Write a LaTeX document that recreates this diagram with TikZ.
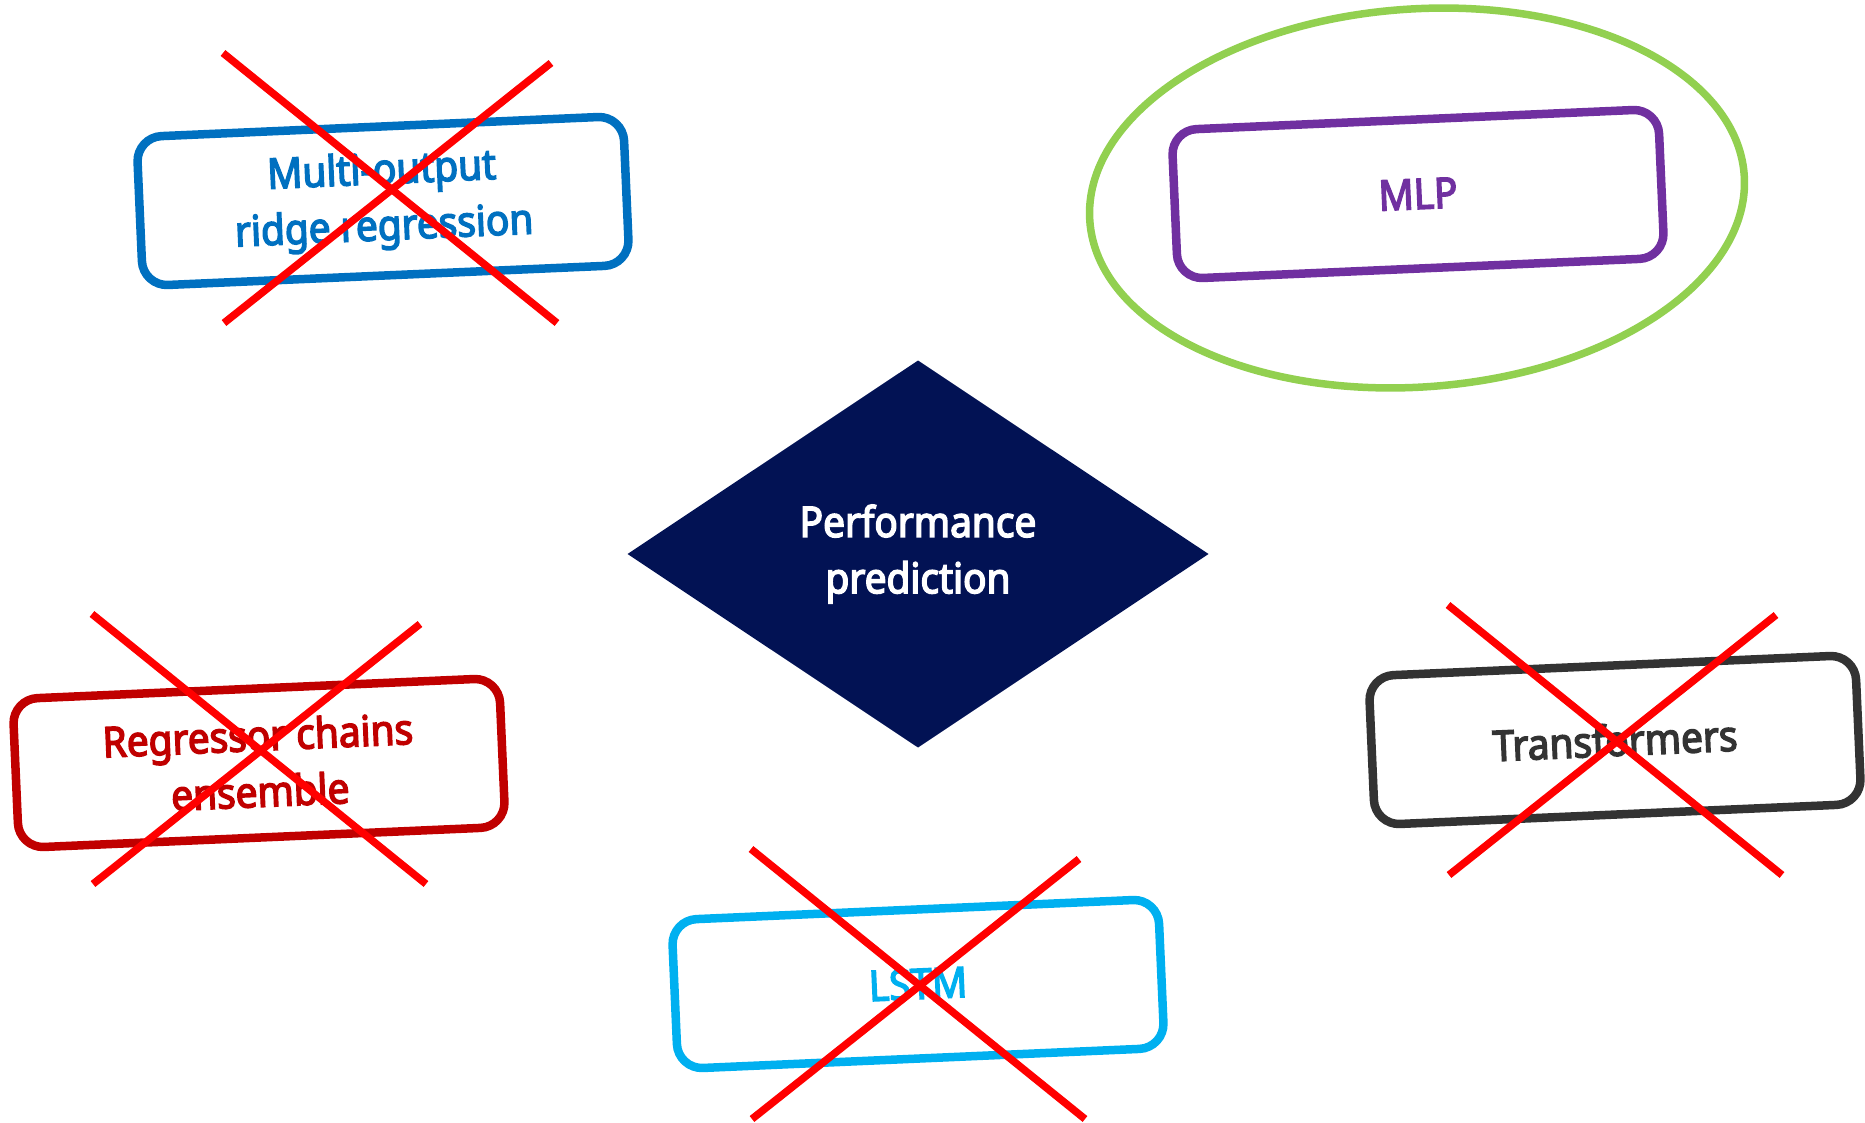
\documentclass[tikz,border=0pt]{standalone}
\usepackage{fontspec}
\setmainfont{Noto Sans}[AutoFakeBold=3.5, FakeStretch=0.92]
\usetikzlibrary{shapes,calc}
\usepackage{color}

\definecolor{navy}{RGB}{2,18,84}
\definecolor{ridgeblue}{RGB}{0,112,192}
\definecolor{mlppurple}{RGB}{112,48,160}
\definecolor{chainred}{RGB}{192,0,0}
\definecolor{transgray}{RGB}{51,51,51}
\definecolor{lstmblue}{RGB}{0,176,240}
\definecolor{ringgreen}{RGB}{146,208,80}
\definecolor{crossred}{RGB}{255,0,0}

\begin{document}
\begin{tikzpicture}[outer sep=0pt,
  model/.style={draw, rounded corners=0.25cm, line width=0.085cm, minimum width=4.87cm,
    minimum height=1.49cm, align=center, rotate=2.5,
    font=\fontsize{12}{16}\selectfont\bfseries},
  strike/.style={draw=crossred, line width=0.075cm}]

\useasboundingbox (0,0) rectangle (18.65,11.22);

\node [diamond, fill=navy, text=white, inner sep=0pt, minimum width=5.81cm, minimum height=3.87cm,
  align=center, font=\fontsize{12}{16}\selectfont\bfseries] at (9.18, 5.68) (PERF) {Performance\\prediction};

\node [model, color=ridgeblue] at (3.83, 9.21) (RIDGE) {Multi-output\\ridge regression};

\node [ellipse, draw=ringgreen, line width=0.075cm, minimum width=6.56cm, minimum height=3.78cm,
  rotate=4] at (14.17, 9.24) (RING) {};
\node [model, color=mlppurple] at (14.18, 9.28) (MLP) {MLP};

\node [model, color=chainred] at (2.59, 3.59) (CHAIN) {Regressor chains\\ensemble};
\node [model, color=transgray] at (16.15, 3.82) (TRANS) {Transformers};
\node [model, color=lstmblue] at (9.18, 1.38) (LSTM) {LSTM};

%\draw [strike] (RIDGE.north west) -- (RIDGE.south east);
\coordinate (XRIDGE) at ($(RIDGE)+(0.07, 0.13)$);
\coordinate (XCHAIN) at ($(CHAIN)+(0, 0.14)$);

\draw [strike] ($(XRIDGE)+(-1.67, 1.35)$) -- ($(XRIDGE)+(1.67, -1.35)$);
\draw [strike] ($(XRIDGE)+(1.61, 1.25)$) -- ($(XRIDGE)+(-1.66, -1.35)$);

\draw [strike] ($(XCHAIN)+(-1.67, 1.35)$) -- ($(XCHAIN)+(1.67, -1.35)$);
\draw [strike] ($(XCHAIN)+(1.61, 1.25)$) -- ($(XCHAIN)+(-1.66, -1.35)$);

\draw [strike] ($(TRANS)+(-1.67, 1.35)$) -- ($(TRANS)+(1.67, -1.35)$);
\draw [strike] ($(TRANS)+(1.61, 1.25)$) -- ($(TRANS)+(-1.66, -1.35)$);

\draw [strike] ($(LSTM)+(-1.67, 1.35)$) -- ($(LSTM)+(1.67, -1.35)$);
\draw [strike] ($(LSTM)+(1.61, 1.25)$) -- ($(LSTM)+(-1.66, -1.35)$);

\end{tikzpicture}
\end{document}
